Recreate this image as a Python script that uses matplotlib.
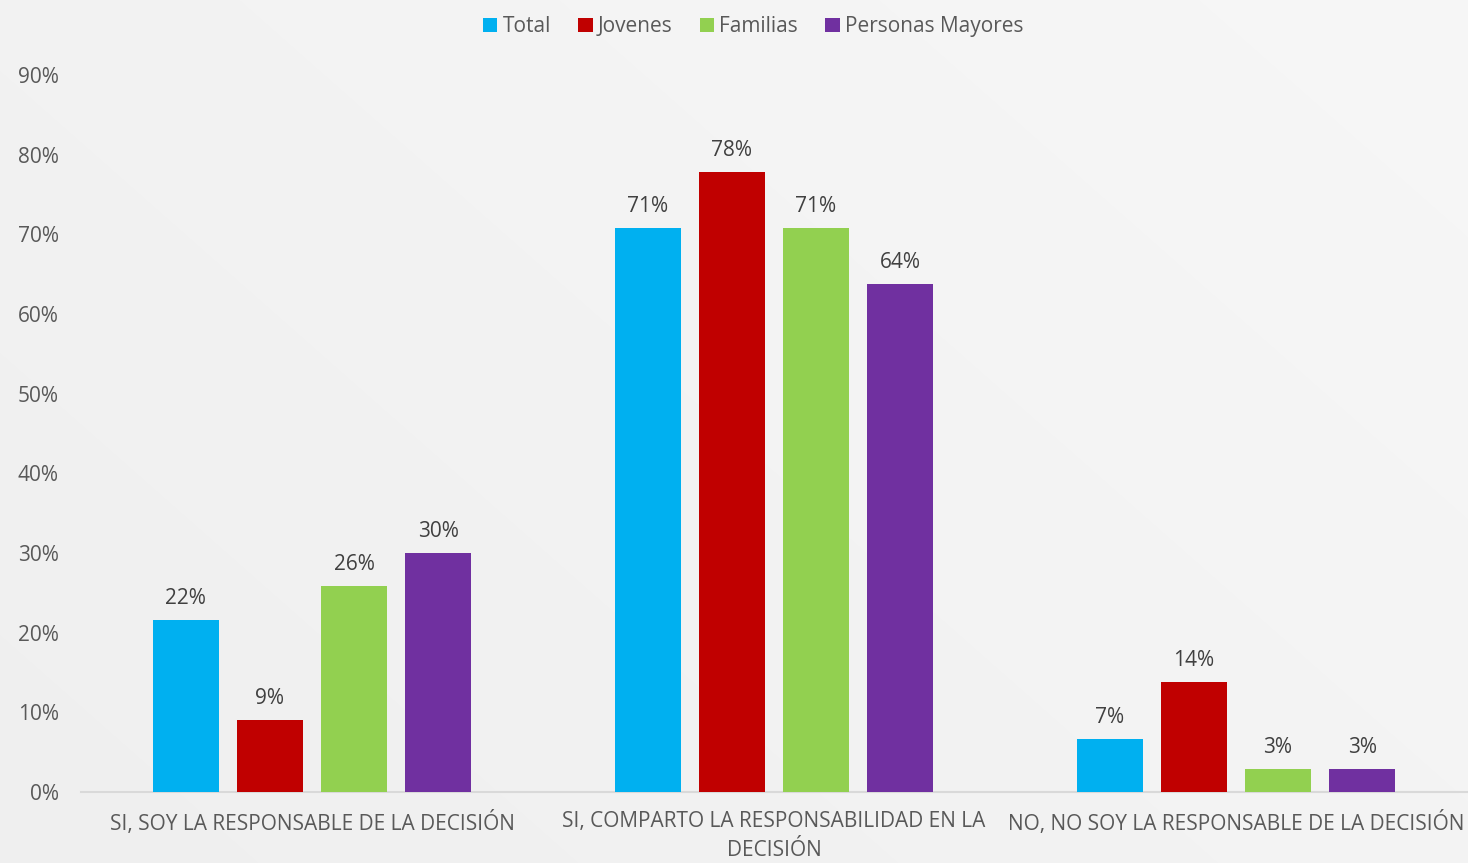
import matplotlib
matplotlib.use('Agg')
import matplotlib.pyplot as plt
import numpy as np

categories = ['SI, SOY LA RESPONSABLE DE LA DECISIÓN',
              'SI, COMPARTO LA RESPONSABILIDAD EN LA\nDECISIÓN',
              'NO, NO SOY LA RESPONSABLE DE LA DECISIÓN']
series_names = ['Total', 'Jovenes', 'Familias', 'Personas Mayores']
total = [21.6, 70.8, 6.6]
jovenes = [9.0, 77.8, 13.8]
familias = [25.8, 70.8, 2.9]
mayores = [30.0, 63.8, 2.9]
colors = ['#00B0F0', '#C00000', '#92D050', '#7030A0']

plt.rcParams['font.family'] = ['Open Sans', 'DejaVu Sans']
text_color = '#595959'

fig = plt.figure(figsize=(14.68, 8.63), dpi=100)

# soft diagonal background gradient
h, w = 863, 1468
yy, xx = np.mgrid[0:h, 0:w]
grad = 0.938 + 0.030 * ((xx / w) * 0.6 + (1 - yy / h) * 0.4)
bg = np.dstack([grad, grad, grad])
fig.figimage(bg, xo=0, yo=0, origin='upper', zorder=-10)

ax = fig.add_axes([81 / 1468, 71 / 863, 1386 / 1468, 717 / 863])
ax.patch.set_alpha(0)

x = np.arange(len(categories))
bar_w = 0.143
step = 0.182
data = [total, jovenes, familias, mayores]
for i, (name, vals) in enumerate(zip(series_names, data)):
    offs = (i - 1.5) * step
    bars = ax.bar(x + offs, vals, bar_w, color=colors[i], label=name, zorder=3)
    for b, v in zip(bars, vals):
        ax.annotate(f'{round(v):.0f}%', (b.get_x() + b.get_width() / 2, v),
                    xytext=(0, 8), textcoords='offset points',
                    ha='center', va='bottom', fontsize=15, color='#404040')

ax.set_xlim(-0.5, 2.5)
ax.set_ylim(0, 90)
ax.set_yticks(np.arange(0, 91, 10))
ax.set_yticklabels([f'{t}%' for t in range(0, 91, 10)])
ax.set_xticks(x)
ax.set_xticklabels(categories, linespacing=1.5)
ax.tick_params(axis='y', length=0, labelsize=15, colors=text_color, pad=16)
ax.tick_params(axis='x', length=0, labelsize=15, colors=text_color, pad=14)
for s in ['top', 'right', 'left']:
    ax.spines[s].set_visible(False)
ax.spines['bottom'].set_color('#d9d9d9')
ax.spines['bottom'].set_linewidth(1.5)

leg = fig.legend(loc='upper center', bbox_to_anchor=(0.513, 1.003), ncol=4,
                 frameon=False, fontsize=15, handlelength=0.7, handleheight=0.7,
                 handletextpad=0.25, columnspacing=1.3)
for t in leg.get_texts():
    t.set_color(text_color)

fig.savefig('out.png', dpi=100)
